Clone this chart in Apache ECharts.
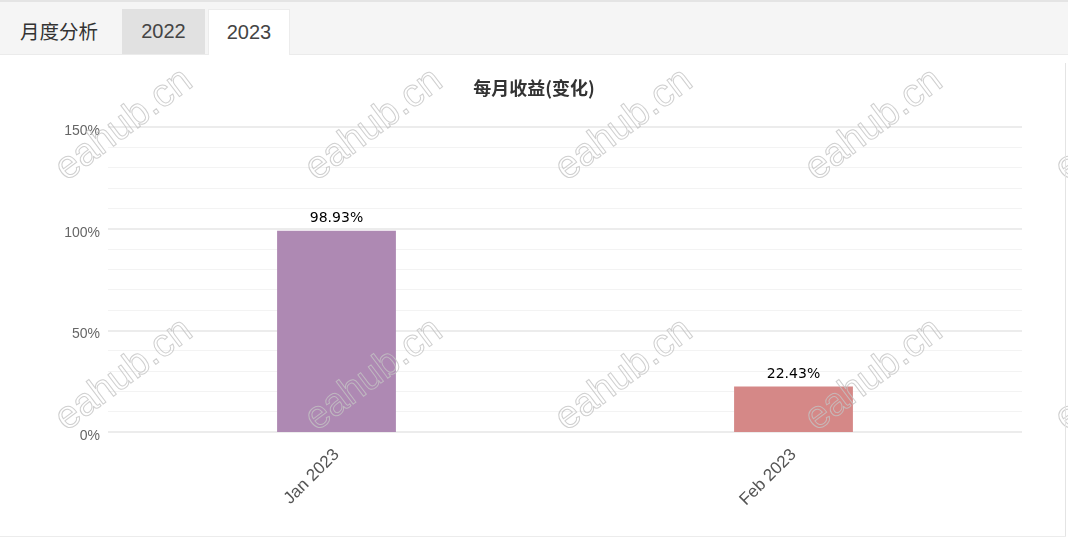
<!DOCTYPE html>
<html>
<head>
<meta charset="utf-8">
<script src="https://cdn.jsdelivr.net/npm/echarts@6/dist/echarts.min.js"></script>
<style>
  html, body { margin: 0; padding: 0; background: #fff; width: 1068px; height: 538px; overflow: hidden; font-family: "Liberation Sans", Arial, "Noto Sans CJK SC", sans-serif; }
  #tabs { position: absolute; left: 0; top: 0; width: 1068px; height: 52px; background: #f5f5f5; border-top: 2px solid #e4e4e4; border-bottom: 1px solid #ebebeb; }
  #tabs .lbl { position: absolute; left: 20px; top: 0; height: 52px; line-height: 58px; font-size: 19.5px; color: #333; font-family: "Noto Sans CJK SC", sans-serif; }
  #tabs .tab { position: absolute; top: 7px; height: 45px; line-height: 45px; text-align: center; font-size: 20px; color: #444; }
  #tab2022 { left: 122px; width: 83px; background: #e1e1e1; }
  #tab2023 { left: 208px; width: 80px; background: #fff; border: 1px solid #ececec; border-bottom: none; top: 8px; height: 45px; }
  #chart { position: absolute; left: 0; top: 55px; width: 1068px; height: 483px; }
  #rb { position: absolute; left: 1065px; top: 63px; width: 1px; height: 474px; background: #e4e4e4; }
  #bb { position: absolute; left: 0; top: 536px; width: 1066px; height: 1px; background: #ececec; }
</style>
</head>
<body>
<div id="tabs">
  <div class="lbl">月度分析</div>
  <div class="tab" id="tab2022">2022</div>
  <div class="tab" id="tab2023">2023</div>
</div>
<div id="chart"></div>
<div id="rb"></div>
<div id="bb"></div>
<script>
const categories = ['Jan 2023', 'Feb 2023'];
const returns = [98.93, 22.43];
const barColors = ['#ae89b3', '#d58887'];
const chartTitle = '每月收益(变化)';
const watermarkText = 'eahub.cn';

const chart = echarts.init(document.getElementById('chart'));

const wmCols = [124, 374, 624, 874, 1124];
const wmRows = [70, 320];
const graphics = [];
wmRows.forEach(function (y) {
  wmCols.forEach(function (x) {
    graphics.push({
      type: 'text',
      x: x, y: y,
      rotation: 37 * Math.PI / 180,
      z: 100,
      silent: true,
      style: {
        text: watermarkText,
        font: '39px "Liberation Sans", Arial, sans-serif',
        fill: 'rgba(255,255,255,0)',
        stroke: 'rgba(195,195,195,0.8)',
        lineWidth: 1,
        align: 'center',
        verticalAlign: 'middle'
      }
    });
  });
});

chart.setOption({
  animation: false,
  title: {
    text: chartTitle,
    left: 'center',
    top: 19,
    textStyle: { fontSize: 18, fontWeight: 'bold', color: '#333', fontFamily: '"Noto Sans CJK SC", sans-serif' }
  },
  grid: { left: 108, right: 46, top: 72, bottom: 106 },
  xAxis: {
    type: 'category',
    data: categories,
    axisLine: { show: false },
    axisTick: { show: false },
    axisLabel: { rotate: 45, margin: 20, fontSize: 17, color: '#555', fontFamily: '"Liberation Sans", Arial, sans-serif' }
  },
  yAxis: {
    type: 'value',
    min: 0, max: 150, interval: 50,
    axisLine: { show: false },
    axisTick: { show: false },
    axisLabel: { formatter: '{value}%', fontSize: 14, color: '#666', margin: 8, verticalAlign: 'top', lineHeight: 8, fontFamily: '"Liberation Sans", Arial, sans-serif' },
    splitLine: { lineStyle: { color: '#e6e6e6', width: 1.5 } },
    minorTick: { show: false, splitNumber: 5 },
    minorSplitLine: { show: true, lineStyle: { color: '#f3f3f3', width: 1 } }
  },
  series: [{
    type: 'bar',
    barWidth: '26%',
    data: returns.map(function (v, i) { return { value: v, itemStyle: { color: barColors[i] } }; }),
    label: {
      show: true,
      position: 'top',
      distance: 5,
      formatter: function (p) { return p.value.toFixed(2) + '%'; },
      fontSize: 14,
      color: '#000',
      fontFamily: '"DejaVu Sans", sans-serif'
    }
  }],
  graphic: graphics
});
</script>
</body>
</html>
